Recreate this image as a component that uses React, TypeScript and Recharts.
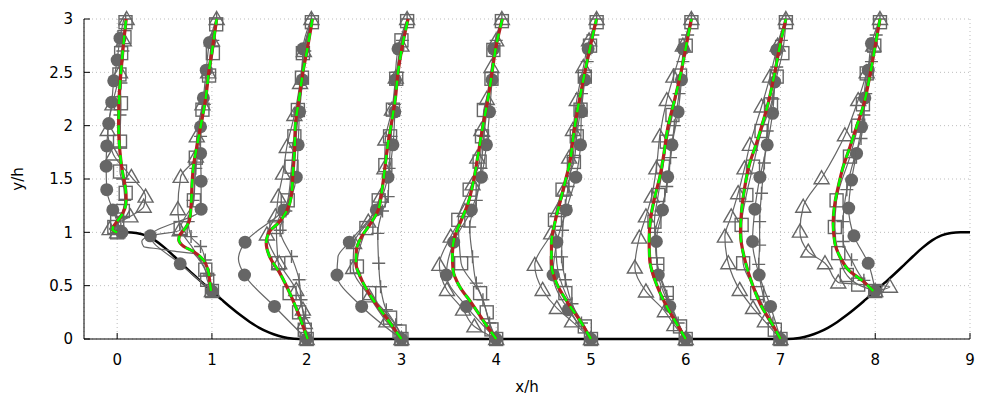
import React from 'react';
import { ScatterChart, Scatter, XAxis, YAxis, CartesianGrid } from 'recharts';

// profile stations along the channel (x/h)
const stations = [0, 1, 2, 3, 4, 5, 6, 7, 8];
const xTicks = [0, 1, 2, 3, 4, 5, 6, 7, 8, 9];
const yTicks = [0, 0.5, 1, 1.5, 2, 2.5, 3];

// lower wall (hill) geometry, x/h and y/h
const hillX = [0, 0.1, 0.2, 0.3, 0.4, 0.5, 0.6, 0.7, 0.8, 0.9, 1.0, 1.1, 1.2, 1.3, 1.4, 1.5, 1.6, 1.7, 1.8, 1.93,
  7.07, 7.2, 7.3, 7.4, 7.5, 7.6, 7.7, 7.8, 7.9, 8.0, 8.1, 8.2, 8.3, 8.4, 8.5, 8.6, 8.7, 8.8, 8.9, 9.0];
const hillY = [1.0, 1.0, 0.994, 0.972, 0.925, 0.857, 0.776, 0.691, 0.607, 0.527, 0.448, 0.371, 0.295, 0.224, 0.16, 0.105, 0.062, 0.03, 0.01, 0,
  0, 0.01, 0.03, 0.062, 0.105, 0.16, 0.224, 0.295, 0.371, 0.448, 0.527, 0.607, 0.691, 0.776, 0.857, 0.925, 0.972, 0.994, 1.0, 1.0];

// each row: [y/h, offset from station]; a third value of 0 = no marker drawn
const lesRows = [
  [[1.0, 0], [1.03, -0.05], [1.08, -0.02], [1.15, 0.04], [1.22, 0.08], [1.3, 0.095], [1.4, 0.09], [1.5, 0.07], [1.6, 0.05], [1.75, 0.03], [2.0, 0.015], [2.25, 0.02], [2.5, 0.04], [2.75, 0.065], [3.0, 0.095]],
  [[0.45, -0.01], [0.55, -0.025], [0.64, -0.04], [0.74, -0.09], [0.82, -0.195], [0.87, -0.3], [0.93, -0.35], [0.98, -0.335], [1.04, -0.28], [1.12, -0.235], [1.25, -0.22], [1.45, -0.21], [1.62, -0.195], [1.8, -0.16], [2.05, -0.107], [2.25, -0.067], [2.5, -0.033], [2.75, 0.01], [3.0, 0.05]],
  [[0, 0.01], [0.165, -0.057], [0.4, -0.163], [0.62, -0.285], [0.77, -0.39], [0.9, -0.427], [1.01, -0.39], [1.086, -0.3], [1.195, -0.214], [1.335, -0.163], [1.55, -0.145], [1.77, -0.128], [2.0, -0.12], [2.25, -0.08], [2.5, -0.04], [2.75, 0.013], [3.0, 0.06]],
  [[0, 0], [0.2, -0.16], [0.37, -0.3], [0.555, -0.42], [0.71, -0.48], [0.836, -0.475], [0.96, -0.42], [1.07, -0.335], [1.21, -0.245], [1.37, -0.21], [1.585, -0.177], [1.835, -0.142], [2.0, -0.11], [2.25, -0.065], [2.5, -0.036], [2.75, 0.01], [3.0, 0.07]],
  [[0, 0], [0.15, -0.12], [0.337, -0.26], [0.49, -0.385], [0.65, -0.456], [0.805, -0.462], [0.96, -0.438], [1.117, -0.367], [1.273, -0.297], [1.46, -0.244], [1.68, -0.2], [2.0, -0.14], [2.25, -0.087], [2.5, -0.044], [2.75, 0.0], [3.0, 0.065]],
  [[0, 0], [0.15, -0.1], [0.337, -0.242], [0.524, -0.364], [0.71, -0.417], [0.9, -0.417], [1.086, -0.382], [1.27, -0.33], [1.46, -0.277], [1.65, -0.224], [1.87, -0.19], [2.0, -0.17], [2.25, -0.12], [2.5, -0.065], [2.75, -0.005], [3.0, 0.058]],
  [[0, 0], [0.15, -0.1], [0.337, -0.22], [0.555, -0.326], [0.742, -0.38], [0.93, -0.386], [1.117, -0.372], [1.335, -0.326], [1.52, -0.273], [1.71, -0.235], [2.0, -0.185], [2.25, -0.115], [2.5, -0.05], [2.75, 0.005], [3.0, 0.06]],
  [[0, 0], [0.15, -0.094], [0.305, -0.2], [0.49, -0.288], [0.742, -0.376], [0.99, -0.422], [1.21, -0.41], [1.43, -0.376], [1.65, -0.324], [1.835, -0.253], [1.99, -0.2], [2.21, -0.13], [2.5, -0.06], [2.75, -0.006], [3.0, 0.057]],
  [[0.45, -0.02], [0.54, -0.127], [0.65, -0.286], [0.742, -0.355], [0.9, -0.426], [1.086, -0.444], [1.273, -0.426], [1.43, -0.39], [1.616, -0.338], [1.8, -0.267], [1.99, -0.197], [2.18, -0.127], [2.5, -0.05], [2.75, 0.0], [3.0, 0.05]],
];

// the dashed model sits on top of the LES line within line width
const dashedRows = lesRows;

const circleRows = [
  [[1.0, 0.05], [1.21, -0.046], [1.4, -0.11], [1.62, -0.116], [1.81, -0.11], [2.02, -0.089], [2.22, -0.057], [2.42, -0.036], [2.615, 0.0], [2.82, 0.03], [3.0, 0.07, 0]],
  [[0.45, 0], [0.705, -0.335], [0.967, -0.65], [1.217, -0.114], [1.48, -0.114], [1.74, -0.12], [1.99, -0.12], [2.26, -0.09], [2.52, -0.06], [2.78, -0.025], [3.0, 0.045, 0]],
  [[0, 0], [0.305, -0.34], [0.6, -0.656], [0.75, -0.72, 0], [0.908, -0.65], [1.21, -0.24], [1.517, -0.11], [1.82, -0.09], [2.13, -0.075], [2.43, -0.046], [2.72, -0.04], [3.0, 0.05, 0]],
  [[0, 0], [0.305, -0.42], [0.6, -0.68], [0.77, -0.67, 0], [0.908, -0.55], [1.21, -0.265], [1.517, -0.142], [1.82, -0.09], [2.13, -0.07], [2.43, -0.065], [2.72, -0.036], [3.0, 0.06, 0]],
  [[0, 0], [0.305, -0.315], [0.6, -0.526], [0.908, -0.449], [1.21, -0.262], [1.517, -0.156], [1.82, -0.103], [2.13, -0.07], [2.43, -0.044], [2.72, -0.027], [3.0, 0.06, 0]],
  [[0, 0], [0.274, -0.24], [0.6, -0.4], [0.908, -0.36], [1.21, -0.26], [1.517, -0.16], [1.82, -0.11], [2.13, -0.1], [2.43, -0.065], [2.72, -0.03], [3.0, 0.06, 0]],
  [[0, 0], [0.305, -0.168], [0.6, -0.29], [0.914, -0.31], [1.21, -0.245], [1.52, -0.19], [1.82, -0.145], [2.13, -0.08], [2.43, -0.045], [2.72, -0.027], [3.0, 0.06, 0]],
  [[0, 0], [0.305, -0.105], [0.6, -0.225], [0.914, -0.295], [1.217, -0.27], [1.517, -0.217], [1.82, -0.14], [2.116, -0.083], [2.41, -0.06], [2.71, -0.04], [3.0, 0.057, 0]],
  [[0.45, 0], [0.71, -0.074], [0.967, -0.225], [1.227, -0.28], [1.49, -0.25], [1.74, -0.197], [1.99, -0.144], [2.26, -0.11], [2.52, -0.074], [2.77, -0.04], [3.0, 0.05, 0]],
];

const squareRows = [
  [[1.0, 0], [1.05, -0.03], [1.12, 0.0], [1.2, 0.06], [1.37, 0.09], [1.57, 0.03], [1.85, 0.03], [2.21, 0.04], [2.48, 0.024], [2.68, 0.042], [2.83, 0.077], [2.97, 0.088]],
  [[0.45, 0], [0.555, -0.05], [0.65, -0.07], [0.85, -0.2, 0], [1.04, -0.33], [1.3, -0.19], [1.7, -0.17], [2.15, -0.1], [2.47, -0.03], [2.68, 0.01], [2.95, 0.045]],
  [[0, 0], [0.087, -0.02], [0.25, -0.08], [0.43, -0.18], [0.71, -0.3], [1.05, -0.32], [1.3, -0.2], [1.615, -0.16], [1.9, -0.13], [2.147, -0.093], [2.45, -0.05], [2.68, -0.04], [2.97, 0.055]],
  [[0, 0], [0.07, -0.02], [0.2, -0.12], [0.43, -0.34], [0.68, -0.47], [1.04, -0.37], [1.3, -0.24], [1.63, -0.17], [1.9, -0.12], [2.15, -0.09], [2.44, -0.055], [2.8, 0.0], [2.98, 0.06]],
  [[0, 0], [0.09, -0.05], [0.25, -0.1], [0.43, -0.17], [0.71, -0.37], [1.117, -0.4], [1.4, -0.28], [1.663, -0.175], [1.9, -0.15], [2.147, -0.13], [2.44, -0.05], [2.71, -0.03], [2.98, 0.06]],
  [[0, 0], [0.118, -0.065], [0.43, -0.27], [0.71, -0.36], [1.117, -0.38], [1.4, -0.3], [1.66, -0.18], [1.9, -0.15], [2.15, -0.11], [2.46, -0.065], [2.75, -0.01], [2.97, 0.06]],
  [[0, 0], [0.118, -0.06], [0.43, -0.2], [0.7, -0.3], [1.1, -0.33], [1.35, -0.29], [1.616, -0.24], [1.85, -0.2], [2.1, -0.14], [2.47, -0.06], [2.75, 0.0], [2.97, 0.06]],
  [[0, 0], [0.087, -0.06], [0.43, -0.246], [0.71, -0.394], [1.07, -0.41], [1.35, -0.36], [1.616, -0.29], [1.95, -0.2], [2.2, -0.1], [2.46, -0.04], [2.68, 0.02], [2.97, 0.057]],
  [[0.45, 0], [0.51, -0.18], [0.6, -0.3], [0.805, -0.39], [1.05, -0.426], [1.3, -0.408], [1.71, -0.267], [2.0, -0.18], [2.2, -0.13], [2.49, -0.09], [2.75, -0.01], [2.97, 0.05]],
];

const triangleRows = [
  [[1.0, 0], [1.03, -0.08], [1.15, 0.14], [1.24, 0.28], [1.335, 0.3], [1.52, 0.15], [1.73, -0.04], [1.96, -0.1], [2.2, -0.05], [2.5, 0.03], [2.8, 0.07], [3.0, 0.1]],
  [[0.45, 0], [0.8, -0.19, 0], [0.82, -0.37, 0], [0.843, -0.546, 0], [0.867, -0.72, 0], [0.914, -0.74, 0], [0.967, -0.65, 0], [1.02, -0.34], [1.217, -0.36], [1.52, -0.33], [1.71, -0.17], [1.9, -0.16], [2.2, -0.1], [2.5, -0.04], [2.8, 0.0], [3.0, 0.05]],
  [[0, 0], [0.15, -0.02], [0.275, -0.04], [0.46, -0.11], [0.71, -0.29], [0.98, -0.42], [1.15, -0.33], [1.335, -0.3], [1.55, -0.25], [1.8, -0.21], [2.1, -0.13], [2.4, -0.07], [2.7, -0.03], [3.0, 0.05]],
  [[0, 0], [0.165, -0.16], [0.4, -0.34], [0.665, -0.51], [0.9, -0.5], [1.1, -0.35], [1.335, -0.22], [1.6, -0.18], [1.87, -0.17], [2.15, -0.1], [2.45, -0.06], [2.75, 0.0], [3.0, 0.06]],
  [[0, 0], [0.118, -0.23], [0.275, -0.35], [0.46, -0.52], [0.695, -0.6], [0.96, -0.48], [1.2, -0.33], [1.45, -0.25], [1.7, -0.2], [1.96, -0.156], [2.25, -0.1], [2.55, -0.05], [2.8, 0.0], [3.0, 0.06]],
  [[0, 0], [0.165, -0.2], [0.29, -0.36], [0.46, -0.51], [0.695, -0.593], [0.99, -0.42], [1.2, -0.35], [1.4, -0.28], [1.7, -0.23], [1.96, -0.19], [2.24, -0.15], [2.55, -0.08], [2.8, -0.02], [3.0, 0.06]],
  [[0, 0], [0.13, -0.12], [0.26, -0.22], [0.446, -0.42], [0.67, -0.537], [0.95, -0.49], [1.15, -0.42], [1.335, -0.36], [1.6, -0.31], [1.9, -0.274], [2.24, -0.2], [2.46, -0.13], [2.75, -0.03], [3.0, 0.06]],
  [[0, 0], [0.165, -0.165], [0.29, -0.29], [0.46, -0.43], [0.71, -0.55], [0.96, -0.587], [1.15, -0.52], [1.367, -0.447], [1.6, -0.38], [1.82, -0.323], [2.18, -0.2], [2.46, -0.11], [2.75, -0.03], [3.0, 0.057]],
  [[0.45, 0], [0.49, 0.155], [0.53, -0.39], [0.71, -0.53], [0.82, -0.707], [1.007, -0.795], [1.24, -0.76], [1.507, -0.566], [1.91, -0.32], [2.24, -0.18], [2.5, -0.09], [2.75, -0.02], [3.0, 0.05]],
];

const plusRows = [
  [[1.0, 0], [1.06, 0.0], [1.15, 0.06], [1.3, 0.08], [1.5, 0.06], [1.8, 0.03], [2.1, 0.03], [2.4, 0.04], [2.7, 0.06], [3.0, 0.09]],
  [[0.45, 0], [0.6, -0.03], [0.74, -0.07], [0.867, -0.12], [0.96, -0.22], [1.1, -0.25], [1.3, -0.2], [1.6, -0.17], [1.9, -0.12], [2.2, -0.08], [2.5, -0.04], [2.8, 0.01], [3.0, 0.05]],
  [[0, 0], [0.2, -0.03], [0.368, -0.06], [0.555, -0.08], [0.773, -0.16], [1.02, -0.28], [1.2, -0.22], [1.5, -0.15], [1.8, -0.12], [2.1, -0.09], [2.4, -0.05], [2.7, -0.02], [3.0, 0.05]],
  [[0, 0], [0.134, -0.06], [0.275, -0.16], [0.49, -0.22], [0.71, -0.24], [0.99, -0.25], [1.2, -0.2], [1.335, -0.14], [1.6, -0.13], [1.9, -0.11], [2.2, -0.075], [2.5, -0.04], [2.8, 0.01], [3.0, 0.06]],
  [[0, 0], [0.15, -0.07], [0.368, -0.14], [0.524, -0.21], [0.77, -0.25], [1.05, -0.28], [1.3, -0.21], [1.6, -0.16], [1.9, -0.13], [2.2, -0.09], [2.5, -0.04], [2.8, 0.0], [3.0, 0.06]],
  [[0, 0], [0.15, -0.1], [0.33, -0.2], [0.555, -0.27], [0.77, -0.31], [1.02, -0.3], [1.25, -0.27], [1.43, -0.24], [1.7, -0.19], [2.0, -0.15], [2.3, -0.1], [2.6, -0.04], [2.85, 0.02], [3.0, 0.06]],
  [[0, 0], [0.15, -0.08], [0.4, -0.2], [0.7, -0.3], [1.0, -0.32], [1.2, -0.26], [1.43, -0.2], [1.7, -0.16], [2.0, -0.12], [2.3, -0.07], [2.6, -0.03], [2.85, 0.02], [3.0, 0.06]],
  [[0, 0], [0.15, -0.08], [0.4, -0.18], [0.7, -0.23], [0.88, -0.22], [1.1, -0.22], [1.367, -0.2], [1.65, -0.17], [1.95, -0.14], [2.25, -0.08], [2.55, -0.04], [2.8, 0.01], [3.0, 0.057]],
  [[0.45, 0], [0.55, -0.12], [0.742, -0.25], [0.914, -0.338], [1.1, -0.34], [1.4, -0.3], [1.7, -0.22], [1.88, -0.15], [2.1, -0.12], [2.3, -0.1], [2.6, -0.04], [2.85, 0.01], [3.0, 0.05]],
];

const GRAY = '#666666';
const FONT = 'DejaVu Sans, sans-serif';

const hillData = hillX.map((x, i) => ({ x, y: hillY[i] }));

const toPoints = (x0: number, rows: number[][]) =>
  rows.map(([y, u, m]) => ({ x: x0 + u, y, m: m !== 0 }));

const noShape = () => <g />;

const markerShape = (kind: string) => (props: any) => {
  const { cx, cy, payload } = props;
  if (cx == null || cy == null || (payload && payload.m === false)) return <g />;
  if (kind === 'circle') return <circle cx={cx} cy={cy} r={6.5} fill={GRAY} />;
  if (kind === 'square')
    return <rect x={cx - 6.5} y={cy - 6.5} width={13} height={13} fill="none" stroke={GRAY} strokeWidth={1.4} />;
  if (kind === 'triangle')
    return (
      <path d={`M${cx},${cy - 7.5}L${cx + 7.5},${cy + 5.5}L${cx - 7.5},${cy + 5.5}Z`}
        fill="none" stroke={GRAY} strokeWidth={1.4} />
    );
  return (
    <path d={`M${cx - 6.5},${cy}H${cx + 6.5}M${cx},${cy - 6.5}V${cy + 6.5}`} stroke={GRAY} strokeWidth={1.4} />
  );
};

const grayGroups = [
  { key: 'circ', rows: circleRows, kind: 'circle' },
  { key: 'sq', rows: squareRows, kind: 'square' },
  { key: 'tri', rows: triangleRows, kind: 'triangle' },
  { key: 'plus', rows: plusRows, kind: 'plus' },
];

const XLabel = (p: any) => {
  const vb = p.viewBox || {};
  return (
    <text x={vb.x + vb.width / 2} y={vb.y + 53} textAnchor="middle" fontSize={15} fill="#000" fontFamily={FONT}>
      x/h
    </text>
  );
};

const YLabel = (p: any) => {
  const vb = p.viewBox || {};
  const cx = vb.x + 18;
  const cy = vb.y + vb.height / 2;
  return (
    <text x={cx} y={cy} transform={`rotate(-90 ${cx} ${cy})`} textAnchor="middle" dominantBaseline="central"
      fontSize={15} fill="#000" fontFamily={FONT}>
      y/h
    </text>
  );
};

export default function App() {
  const tickStyle = { fill: '#000', fontSize: 15, fontFamily: FONT };
  return (
    <div style={{ position: 'absolute', left: 0, top: 0, width: 1000, height: 400, background: '#fff' }}>
      <ScatterChart width={1000} height={400} margin={{ top: 19, right: 30, bottom: 0, left: 0 }}>
        <CartesianGrid stroke="#bdbdbd" strokeDasharray="1 3" />
        <XAxis type="number" dataKey="x" domain={[-0.35, 9]} ticks={xTicks} interval={0} height={61}
          tickSize={-6} tickMargin={21} tick={tickStyle} stroke="#000" label={{ content: XLabel }} />
        <XAxis xAxisId="top" orientation="top" type="number" dataKey="x" domain={[-0.35, 9]} ticks={xTicks}
          interval={0} height={0} tickSize={-6} tickFormatter={() => ''} stroke="#000" />
        <YAxis type="number" dataKey="y" domain={[0, 3]} ticks={yTicks} interval={0} width={84}
          tickSize={-6} tickMargin={17} tick={tickStyle} stroke="#000" label={{ content: YLabel }} />
        <YAxis yAxisId="right" orientation="right" type="number" dataKey="y" domain={[0, 3]} ticks={yTicks}
          interval={0} width={0} tickSize={-6} tickFormatter={() => ''} stroke="#000" />

        <Scatter data={hillData} shape={noShape} line={{ stroke: '#000', strokeWidth: 2.5 }}
          lineJointType="monotoneX" isAnimationActive={false} />

        {grayGroups.map((g) =>
          stations.map((x0, i) => (
            <Scatter key={`${g.key}-${x0}`} data={toPoints(x0, g.rows[i])} shape={markerShape(g.kind)}
              line={{ stroke: GRAY, strokeWidth: 1.2 }} lineJointType="monotoneY" isAnimationActive={false} />
          ))
        )}

        {stations.map((x0, i) => (
          <Scatter key={`les-${x0}`} data={toPoints(x0, lesRows[i])} shape={noShape}
            line={{ stroke: '#b22222', strokeWidth: 3.2 }} lineJointType="monotoneY" isAnimationActive={false} />
        ))}
        {stations.map((x0, i) => (
          <Scatter key={`dash-${x0}`} data={toPoints(x0, dashedRows[i])} shape={noShape}
            line={{ stroke: '#00ff00', strokeWidth: 2.5, strokeDasharray: '9 6' }} lineJointType="monotoneY"
            isAnimationActive={false} />
        ))}
      </ScatterChart>
    </div>
  );
}
